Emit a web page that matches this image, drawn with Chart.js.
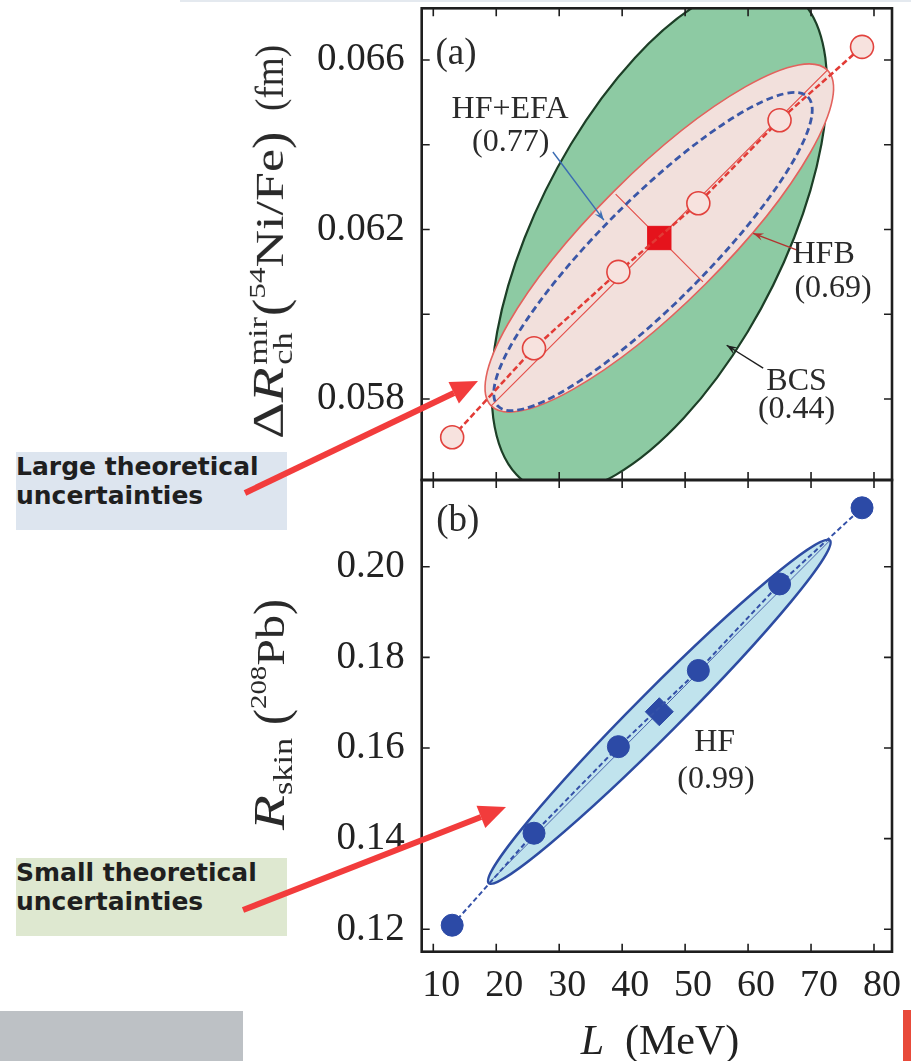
<!DOCTYPE html>
<html><head><meta charset="utf-8">
<script src="https://cdn.jsdelivr.net/npm/chart.js@4.4.1/dist/chart.umd.min.js"></script>
<style>
html,body{margin:0;padding:0;background:#fff;}
body{width:911px;height:1061px;position:relative;overflow:hidden;}
canvas{position:absolute;left:0;}
#ca{top:0;} #cb{top:470px;}
.yt{position:absolute;font-family:"Liberation Serif",serif;font-size:40px;color:#2a2a2a;white-space:nowrap;line-height:1;transform:translate(-50%,-50%) rotate(-90deg);}
.xt{position:absolute;font-family:"Liberation Serif",serif;font-size:42px;color:#222;white-space:nowrap;line-height:1;transform:translate(-50%,-50%);}
.seg{display:inline-block;white-space:nowrap;}
.in{display:inline-block;transform-origin:0 50%;}
.gap{display:inline-block;}
.ss{display:inline-flex;flex-direction:column;font-size:0.6em;line-height:0.95;vertical-align:0.62em;margin-left:2px;}
.sp{font-size:0.6em;position:relative;top:-0.75em;}
.sb{font-size:0.6em;position:relative;top:0.3em;}
.bp{display:inline-block;transform:scaleY(1.2);}
.note{position:absolute;left:16px;width:271px;height:78px;font-family:"DejaVu Sans",sans-serif;font-weight:bold;font-size:25px;line-height:29px;color:#1f1f1f;box-sizing:border-box;padding-top:0px;}
svg{position:absolute;left:0;top:0;}
</style></head><body>
<div style="position:absolute;left:180px;top:0;width:731px;height:2px;background:#e4e9ef"></div>
<canvas id="ca" width="911" height="482"></canvas>
<canvas id="cb" width="911" height="591"></canvas>

<div class="yt" style="left:271px;top:242px"><span class="seg" style="width:114px"><span class="in" style="font-size:44px;transform:scaleX(1.3)">Δ<i>R</i><span class="ss"><span>mir</span><span>ch</span></span></span></span><span class="gap" style="width:9px"></span><span class="seg" style="width:196px"><span class="in" style="transform:scaleX(1.3)"><span class="bp">(</span><span class="sp">54</span>Ni/Fe<span class="bp">)</span></span></span><span class="gap" style="width:9px"></span><span class="seg" style="width:66px"><span class="in" style="transform:scaleX(0.93)">(fm)</span></span></div>
<div class="yt" style="left:270px;top:714px"><span class="seg" style="width:93px"><span class="in" style="font-size:44px;transform:scaleX(1.3)"><i>R</i><span class="sb">skin</span></span></span><span class="gap" style="width:12px"></span><span class="seg" style="width:127px"><span class="in" style="transform:scaleX(1.2)"><span class="bp">(</span><span class="sp">208</span>Pb<span class="bp">)</span></span></span></div>
<div class="xt" style="left:660px;top:1040px"><i>L</i>&nbsp;&nbsp;(MeV)</div>

<div class="note" style="top:452px;background:#dde5ef">Large theoretical<br>uncertainties</div>
<div class="note" style="top:858px;background:#dee8d0">Small theoretical<br>uncertainties</div>
<div style="position:absolute;left:0;top:1011px;width:243px;height:50px;background:#bdc1c5"></div>
<div style="position:absolute;left:903px;top:1010px;width:8px;height:51px;background:#e84a3a"></div>

<svg width="911" height="1061">
  <line x1="245" y1="493" x2="454" y2="393" stroke="#f23c3c" stroke-width="6"/>
  <polygon points="478,381 458.9,403.5 448.5,381.9" fill="#f23c3c"/>
  <line x1="243" y1="910" x2="481" y2="817" stroke="#f23c3c" stroke-width="6"/>
  <polygon points="506,807 485.3,828.1 476.5,805.7" fill="#f23c3c"/>
</svg>

<script>
// ---- data ----
const L_MEV      = [13.0, 26.0, 39.4, 52.1, 65.0, 78.1];
const DR_MIR_CH  = [0.05710, 0.05920, 0.06100, 0.06262, 0.06458, 0.06631];
const R_SKIN     = [0.1209, 0.1412, 0.1603, 0.1771, 0.1962, 0.2130];
const L_OPT      = [45.9];
const DR_OPT     = [0.0618];
const RSKIN_OPT  = [0.1680];
const X_TICKS    = [10, 20, 30, 40, 50, 60, 70, 80];
const YA_TICKS   = [0.058, 0.062, 0.066];
const YA_MINOR   = [0.060, 0.064];
const YB_TICKS   = [0.12, 0.14, 0.16, 0.18, 0.20];
const X_RANGE    = [8.16, 82.86];
const YA_RANGE   = [0.05609, 0.06722];
const YB_RANGE   = [0.11506, 0.21913];
// covariance ellipses: [L_c, y_c, L_1, y_1, L_2, y_2] centre + two conjugate semi-diameter ends
const ELL_BCS    = [45.9, 0.0618, 61.8, 0.06781, 67.3, 0.0618];
const ELL_HFB    = [45.9, 0.0618, 72.6, 0.06576, 53.2, 0.06071];
const ELL_HFEFA  = [44.9, 0.06148, 69.5, 0.06513, 50.8, 0.06060];
const ELL_HF     = [45.9, 0.1680, 73.0, 0.2058, 48.4, 0.16455];
// labels: [text, L, y, size]
const LABELS_A = [["(a)", 13.6, 0.06614, 37], ["HF+EFA", 22.2, 0.06482, 32], ["(0.77)", 22.3, 0.06404, 32],
                  ["HFB", 72.0, 0.06142, 32], ["(0.69)", 73.5, 0.06060, 32], ["BCS", 67.7, 0.05842, 32], ["(0.44)", 67.7, 0.05774, 32]];
const LABELS_B = [["(b)", 13.9, 0.21008, 37], ["HF", 54.7, 0.16110, 32], ["(0.99)", 54.9, 0.15294, 32]];
// pointer arrows: [L0, y0, L1, y1, colour]
const ARROWS_A = [[29.0, 0.06383, 37.1, 0.06222, "#3b6db3"], [67.7, 0.06152, 60.8, 0.06191, "#b2332f"], [62.4, 0.05873, 56.6, 0.05927, "#1e1e1e"]];

const SERIF = '"Liberation Serif", "Times New Roman", serif';
const pts = (xs, ys) => xs.map((v, i) => ({x: v, y: ys[i]}));

function ellPath(chart, e) {
  const x = chart.scales.x, y = chart.scales.y, ctx = chart.ctx;
  const cx = x.getPixelForValue(e[0]), cy = y.getPixelForValue(e[1]);
  const ux = x.getPixelForValue(e[2]) - cx, uy = y.getPixelForValue(e[3]) - cy;
  const vx = x.getPixelForValue(e[4]) - cx, vy = y.getPixelForValue(e[5]) - cy;
  ctx.save(); ctx.beginPath(); ctx.transform(ux, uy, vx, vy, cx, cy); ctx.arc(0, 0, 1, 0, Math.PI * 2); ctx.closePath(); ctx.restore();
}
function axesPath(chart, e, f2) {
  const x = chart.scales.x, y = chart.scales.y, ctx = chart.ctx;
  const cx = x.getPixelForValue(e[0]), cy = y.getPixelForValue(e[1]);
  const ux = x.getPixelForValue(e[2]) - cx, uy = y.getPixelForValue(e[3]) - cy;
  const vx = x.getPixelForValue(e[4]) - cx, vy = y.getPixelForValue(e[5]) - cy;
  ctx.beginPath(); ctx.moveTo(cx - ux, cy - uy); ctx.lineTo(cx + ux, cy + uy);
  if (f2) { ctx.moveTo(cx - vx * f2, cy - vy * f2); ctx.lineTo(cx + vx * f2, cy + vy * f2); }
}
function clipArea(chart) { const a = chart.chartArea, ctx = chart.ctx; ctx.beginPath(); ctx.rect(a.left, a.top, a.right - a.left, a.bottom - a.top); ctx.clip(); }

const shapesA = { id: 'shapesA', beforeDatasetsDraw(chart) {
  const ctx = chart.ctx; ctx.save(); clipArea(chart);
  ellPath(chart, ELL_BCS); ctx.fillStyle = '#8dcaa3'; ctx.fill(); ctx.strokeStyle = '#1d3f27'; ctx.lineWidth = 2.2; ctx.stroke();
  ellPath(chart, ELL_HFB); ctx.fillStyle = '#f2e0dc'; ctx.fill(); ctx.strokeStyle = '#e3625d'; ctx.lineWidth = 1.6; ctx.stroke();
  axesPath(chart, ELL_HFB, 0.95); ctx.strokeStyle = '#e4504b'; ctx.lineWidth = 1.2; ctx.stroke();
  ellPath(chart, ELL_HFEFA); ctx.setLineDash([7, 4]); ctx.strokeStyle = '#3b57a7'; ctx.lineWidth = 2.8; ctx.stroke();
  ctx.restore();
}};
const shapesB = { id: 'shapesB', beforeDatasetsDraw(chart) {
  const ctx = chart.ctx; ctx.save(); clipArea(chart);
  ellPath(chart, ELL_HF); ctx.fillStyle = '#c0e3ed'; ctx.fill(); ctx.strokeStyle = '#2d4ca2'; ctx.lineWidth = 2.5; ctx.stroke();
  axesPath(chart, ELL_HF, 0); ctx.strokeStyle = '#4a64ad'; ctx.lineWidth = 1; ctx.stroke();
  ctx.restore();
}};
function labelsPlugin(id, labels, arrows) { return { id, afterDatasetsDraw(chart) {
  const ctx = chart.ctx, x = chart.scales.x, y = chart.scales.y;
  ctx.save();
  (arrows || []).forEach(a => {
    const x0 = x.getPixelForValue(a[0]), y0 = y.getPixelForValue(a[1]), x1 = x.getPixelForValue(a[2]), y1 = y.getPixelForValue(a[3]);
    const ang = Math.atan2(y1 - y0, x1 - x0), h = 11;
    ctx.strokeStyle = a[4]; ctx.fillStyle = a[4]; ctx.lineWidth = 1.4;
    ctx.beginPath(); ctx.moveTo(x0, y0); ctx.lineTo(x1, y1); ctx.stroke();
    ctx.beginPath(); ctx.moveTo(x1, y1);
    ctx.lineTo(x1 - h * Math.cos(ang - 0.35), y1 - h * Math.sin(ang - 0.35));
    ctx.lineTo(x1 - h * 0.6 * Math.cos(ang), y1 - h * 0.6 * Math.sin(ang));
    ctx.lineTo(x1 - h * Math.cos(ang + 0.35), y1 - h * Math.sin(ang + 0.35)); ctx.closePath(); ctx.fill();
  });
  ctx.fillStyle = '#2a2a2a'; ctx.textAlign = 'center'; ctx.textBaseline = 'middle';
  labels.forEach(l => { ctx.font = l[3] + 'px ' + SERIF; ctx.fillText(l[0], x.getPixelForValue(l[1]), y.getPixelForValue(l[2])); });
  ctx.restore();
}}; }
function framePlugin(id, yMinor) { return { id, afterDatasetsDraw(chart) {
  const ctx = chart.ctx, a = chart.chartArea, x = chart.scales.x, y = chart.scales.y, T = 8;
  ctx.save(); ctx.strokeStyle = '#1e1e1e'; ctx.lineWidth = 1.6; ctx.beginPath();
  x.ticks.forEach(t => { const p = x.getPixelForValue(t.value); ctx.moveTo(p, a.bottom); ctx.lineTo(p, a.bottom - T); ctx.moveTo(p, a.top); ctx.lineTo(p, a.top + T); });
  y.ticks.map(t => t.value).concat(yMinor).forEach(v => { const p = y.getPixelForValue(v); ctx.moveTo(a.left, p); ctx.lineTo(a.left + T, p); ctx.moveTo(a.right, p); ctx.lineTo(a.right - T, p); });
  ctx.stroke();
  ctx.lineWidth = 2.6; ctx.strokeRect(a.left, a.top, a.right - a.left, a.bottom - a.top);
  ctx.restore();
}}; }
const noPad = s => { s.paddingTop = 0; s.paddingBottom = 0; s.paddingLeft = 0; s.paddingRight = 0; };

const common = { responsive: false, animation: false, events: [], devicePixelRatio: 1,
  plugins: { legend: { display: false }, tooltip: { enabled: false } } };

new Chart(document.getElementById('ca'), {
  type: 'scatter',
  data: { datasets: [
    { data: pts(L_MEV, DR_MIR_CH), showLine: true, borderColor: '#e23b36', borderWidth: 2.5, borderDash: [6, 3],
      pointRadius: 11.5, pointBackgroundColor: '#f7e2de', pointBorderColor: '#e2423d', pointBorderWidth: 1.6, clip: false },
    { data: pts(L_OPT, DR_OPT), showLine: false, pointStyle: 'rect', pointRadius: 16.5, pointBackgroundColor: '#e5131c', pointBorderColor: '#e5131c', pointBorderWidth: 1 }
  ]},
  options: Object.assign({}, common, {
    layout: { autoPadding: false, padding: { top: 8.3, right: 19, bottom: 2, left: 0 } },
    scales: {
      x: { type: 'linear', min: X_RANGE[0], max: X_RANGE[1], afterBuildTicks: s => { s.ticks = X_TICKS.map(v => ({value: v})); },
           ticks: { display: false }, grid: { display: false, drawTicks: false }, border: { display: false }, afterFit: s => { s.height = 0; noPad(s); } },
      y: { type: 'linear', min: YA_RANGE[0], max: YA_RANGE[1], afterBuildTicks: s => { s.ticks = YA_TICKS.map(v => ({value: v})); },
           ticks: { font: { family: SERIF, size: 39 }, color: '#222', padding: 17, callback: v => v.toFixed(3) },
           grid: { display: false, drawTicks: false }, border: { display: false }, afterFit: s => { s.width = 421.7; noPad(s); } }
    }
  }),
  plugins: [shapesA, labelsPlugin('labA', LABELS_A, ARROWS_A), framePlugin('frA', YA_MINOR)]
});

new Chart(document.getElementById('cb'), {
  type: 'scatter',
  data: { datasets: [
    { data: pts(L_MEV, R_SKIN), showLine: true, borderColor: '#3451a8', borderWidth: 2, borderDash: [5, 3],
      pointRadius: 11, pointBackgroundColor: '#2c4aa6', pointBorderColor: '#2c4aa6', pointBorderWidth: 1, clip: false },
    { data: pts(L_OPT, RSKIN_OPT), showLine: false, pointStyle: 'rectRot', pointRadius: 14, pointBackgroundColor: '#2c4aa6', pointBorderColor: '#2c4aa6', pointBorderWidth: 1 }
  ]},
  options: Object.assign({}, common, {
    layout: { autoPadding: false, padding: { top: 10, right: 19, bottom: 39.3, left: 0 } },
    scales: {
      x: { type: 'linear', min: X_RANGE[0], max: X_RANGE[1], afterBuildTicks: s => { s.ticks = X_TICKS.map(v => ({value: v})); },
           ticks: { font: { family: SERIF, size: 38 }, color: '#222', padding: 11.5, labelOffset: 8, maxRotation: 0, autoSkip: false, callback: v => String(v) },
           grid: { display: false, drawTicks: false }, border: { display: false }, afterFit: s => { s.height = 70; noPad(s); } },
      y: { type: 'linear', min: YB_RANGE[0], max: YB_RANGE[1], afterBuildTicks: s => { s.ticks = YB_TICKS.map(v => ({value: v})); },
           ticks: { font: { family: SERIF, size: 39 }, color: '#222', padding: 17, callback: v => v.toFixed(2) },
           grid: { display: false, drawTicks: false }, border: { display: false }, afterFit: s => { s.width = 421.7; noPad(s); } }
    }
  }),
  plugins: [shapesB, labelsPlugin('labB', LABELS_B, []), framePlugin('frB', [])]
});
</script>
</body></html>
